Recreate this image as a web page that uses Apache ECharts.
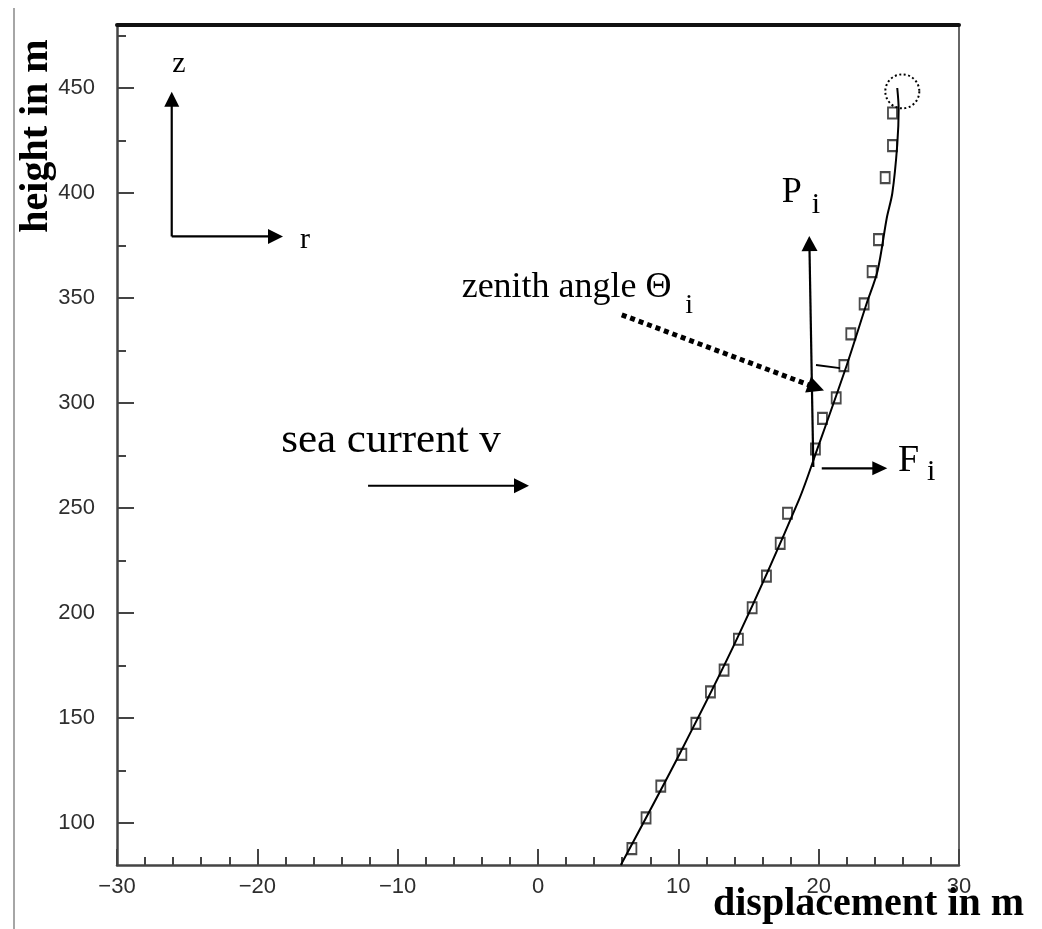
<!DOCTYPE html>
<html>
<head>
<meta charset="utf-8">
<script src="https://cdn.jsdelivr.net/npm/echarts@6/dist/echarts.min.js"></script>
<style>
  html, body { margin: 0; padding: 0; background: #fff; }
  #chart { width: 1042px; height: 929px; }
</style>
</head>
<body>
<div id="chart"></div>
<script>
// Shape of a detector line deflected by the sea current

// Axis ticks
const xTickValues = [-30, -20, -10, 0, 10, 20, 30];
const yLabelValues = [100, 150, 200, 250, 300, 350, 400, 450];
const yMinorTickValues = [125, 175, 225, 275, 325, 375, 425, 475];

// Measured storey positions: displacement (m) and height (m)
const storeyDisplacement = [6.69, 7.70, 8.75, 10.25, 11.25, 12.29, 13.26, 14.28, 15.26, 16.28, 17.26, 17.78,
  19.77, 20.27, 21.25, 21.80, 22.29, 23.24, 23.81, 24.26, 24.74, 25.26, 25.26];
const storeyHeight = [87.8, 102.4, 117.6, 132.7, 147.4, 162.4, 172.8, 187.5, 202.5, 217.6, 233.2, 247.5,
  278.1, 292.7, 302.4, 317.8, 332.9, 347.2, 362.6, 377.8, 407.3, 422.6, 438.1];

// Fitted cable shape
const cableDisplacement = [5.9, 10.1, 14.2, 18.6, 19.9, 22.0, 23.4, 24.2, 24.85, 25.25, 25.6, 25.7, 25.6];
const cableHeight = [80, 133, 188, 254, 278, 318, 347, 363, 388, 400, 423, 440, 450];

const X_MIN = -30, X_MAX = 30, Y_MIN = 80, Y_MAX = 480;
const AXIS_COLOR = '#444';
const labelFont = { fontFamily: 'Liberation Sans', fontSize: 22, color: '#2e2e2e' };
const minus = v => String(v).replace('-', '\u2212');

const chart = echarts.init(document.getElementById('chart'), null, { renderer: 'canvas' });

const option = {
  animation: false,
  backgroundColor: '#fff',
  grid: { left: 117, right: 83, top: 25, bottom: 64 },
  xAxis: [
    {
      type: 'value', min: X_MIN, max: X_MAX, interval: 10, position: 'bottom',
      axisLine: { onZero: false, lineStyle: { color: AXIS_COLOR, width: 2.5 } },
      axisTick: { inside: true, length: 16, lineStyle: { color: AXIS_COLOR, width: 2 } },
      minorTick: { show: true, splitNumber: 5, length: 8, lineStyle: { color: AXIS_COLOR, width: 2 } },
      axisLabel: Object.assign({ margin: 11, formatter: minus, showMinLabel: true, showMaxLabel: true }, labelFont),
      splitLine: { show: false },
      minorSplitLine: { show: false }
    },
    {
      // frame top
      type: 'value', min: X_MIN, max: X_MAX, position: 'top',
      axisLine: { onZero: false, lineStyle: { color: '#111', width: 4 } },
      axisTick: { show: false }, axisLabel: { show: false }, splitLine: { show: false }
    }
  ],
  yAxis: [
    {
      type: 'value', min: Y_MIN, max: Y_MAX, position: 'left',
      axisLine: { onZero: false, lineStyle: { color: AXIS_COLOR, width: 2.5 } },
      axisTick: { inside: true, length: 17, customValues: yLabelValues, lineStyle: { color: AXIS_COLOR, width: 2 } },
      axisLabel: Object.assign({ margin: 22, customValues: yLabelValues }, labelFont),
      splitLine: { show: false }
    },
    {
      // minor ticks of the height axis
      type: 'value', min: Y_MIN, max: Y_MAX, position: 'left',
      axisLine: { show: false, onZero: false },
      axisTick: { inside: true, length: 9, customValues: yMinorTickValues, lineStyle: { color: AXIS_COLOR, width: 2 } },
      axisLabel: { show: false }, splitLine: { show: false }
    },
    {
      // frame right
      type: 'value', min: Y_MIN, max: Y_MAX, position: 'right',
      axisLine: { onZero: false, lineStyle: { color: '#666', width: 2 } },
      axisTick: { show: false }, axisLabel: { show: false }, splitLine: { show: false }
    }
  ],
  series: [
    {
      type: 'scatter', name: 'storeys',
      data: storeyDisplacement.map((x, i) => [x, storeyHeight[i]]),
      symbol: 'rect', symbolSize: [9, 11],
      itemStyle: { color: '#fff', borderColor: '#4a4a4a', borderWidth: 2, opacity: 1 },
      z: 2
    },
    {
      type: 'line', name: 'cable',
      data: cableDisplacement.map((x, i) => [x, cableHeight[i]]),
      symbol: 'none', smooth: 0.3,
      lineStyle: { color: '#000', width: 2 },
      z: 3
    }
  ]
};

chart.setOption(option);

// ---- annotations (anchored in data coordinates) ----
const toPx = p => chart.convertToPixel({ xAxisIndex: 0, yAxisIndex: 0 }, p);

function arrow(from, to, opt) {
  const a = toPx(from), b = toPx(to);
  const len = opt.head || 15, half = opt.half || 7.5;
  const dx = b[0] - a[0], dy = b[1] - a[1];
  const d = Math.hypot(dx, dy);
  const ux = dx / d, uy = dy / d;
  const nx = -uy, ny = ux;
  const bx = b[0] - ux * len, by = b[1] - uy * len;
  return [{
    type: 'line', silent: true, z: 10,
    shape: { x1: a[0], y1: a[1], x2: bx + ux * 2, y2: by + uy * 2 },
    style: { stroke: '#000', lineWidth: opt.width || 2.2, lineDash: opt.dash || null, lineCap: 'butt' }
  }, {
    type: 'polygon', silent: true, z: 10,
    shape: { points: [[b[0], b[1]], [bx + nx * half, by + ny * half], [bx - nx * half, by - ny * half]] },
    style: { fill: '#000' }
  }];
}

function label(text, at, size, align) {
  const p = toPx(at);
  return {
    type: 'text', silent: true, z: 11, x: p[0], y: p[1],
    style: {
      text: text, font: size + 'px "Liberation Serif"', fill: '#000',
      align: align || 'left', verticalAlign: 'middle'
    }
  };
}

const origin = [-26.10, 379.3];
const dotStart = [5.97, 342.0], dotTip = [20.38, 305.9];
const circleCenter = toPx([25.96, 448.4]);
const a0 = toPx([19.81, 318.1]), a1 = toPx([21.52, 316.6]);

const graphics = [].concat(
  arrow(origin, [-26.10, 448.2], {}),
  arrow(origin, [-18.17, 379.3], {}),
  arrow([-12.11, 260.6], [-0.64, 260.6], {}),
  arrow([19.62, 269.5], [19.33, 379.5], { half: 8 }),
  arrow([20.22, 268.9], [24.89, 268.9], { half: 7 }),
  arrow(dotStart, dotTip, { width: 5, dash: [5, 4], head: 17, half: 8.5 }),
  [
    {
      type: 'line', silent: true, z: 10,
      shape: { x1: a0[0], y1: a0[1], x2: a1[0], y2: a1[1] },
      style: { stroke: '#000', lineWidth: 1.8 }
    },
    {
      type: 'circle', silent: true, z: 10,
      shape: { cx: circleCenter[0], cy: circleCenter[1], r: 17 },
      style: { fill: null, stroke: '#000', lineWidth: 2, lineDash: [2, 2.5] }
    },
    label('z', [-25.58, 461.3], 30, 'center'),
    label('r', [-16.60, 377.7], 30, 'center'),
    label('sea current v', [-18.3, 281.9], 43),
    label('zenith angle \u0398', [-5.44, 354.8], 36),
    label('i', [10.5, 346.2], 28),
    label('P', [17.37, 400.2], 36),
    label('i', [19.50, 394.1], 30),
    label('F', [25.65, 272.3], 38),
    label('i', [27.72, 267.2], 30),
    // axis titles
    {
      type: 'text', silent: true, z: 11, x: 713, y: 905,
      style: { text: 'displacement in m', font: 'bold 40px "Liberation Serif"', fill: '#000', align: 'left', verticalAlign: 'middle' }
    },
    {
      type: 'text', silent: true, z: 11, x: 37, y: 136, rotation: Math.PI / 2,
      style: { text: 'height in m', font: 'bold 40px "Liberation Serif"', fill: '#000', align: 'center', verticalAlign: 'middle' }
    },
    // page margin rule
    {
      type: 'line', silent: true, z: 1,
      shape: { x1: 14, y1: 8, x2: 14, y2: 929 },
      style: { stroke: '#888', lineWidth: 1.5 }
    }
  ]
);

chart.setOption({ graphic: graphics });
</script>
</body>
</html>
